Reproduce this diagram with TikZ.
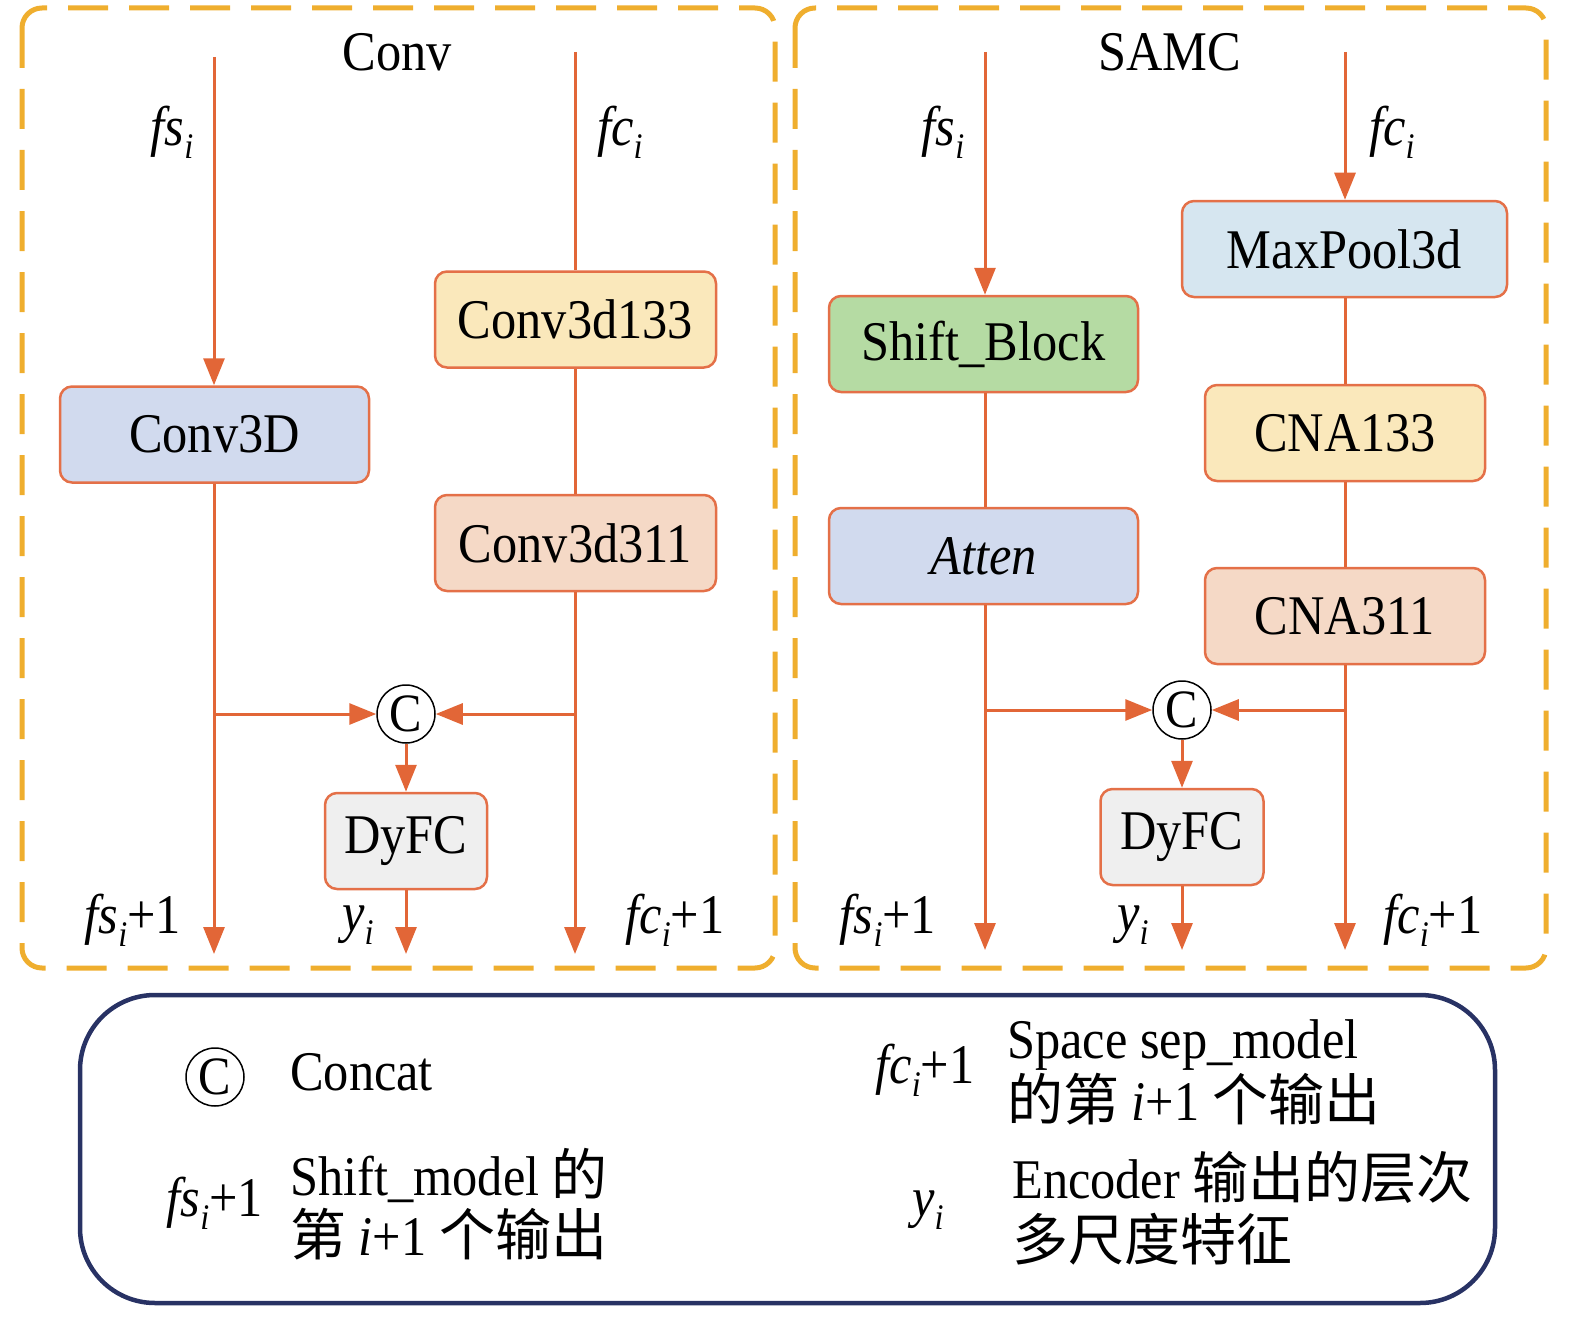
\documentclass[tikz,border=0pt]{standalone}
\usepackage{fontspec}
\setmainfont{Liberation Serif}[FakeStretch=0.9]
\newfontfamily\cjk{Noto Sans CJK SC}
\usetikzlibrary{arrows.meta}
\definecolor{dashorange}{RGB}{239,174,46}
\definecolor{flow}{RGB}{226,102,55}
\definecolor{boxedge}{RGB}{228,112,72}
\definecolor{fillblue}{RGB}{209,218,238}
\definecolor{fillyellow}{RGB}{250,232,187}
\definecolor{fillpeach}{RGB}{245,217,198}
\definecolor{fillsky}{RGB}{214,230,240}
\definecolor{fillgreen}{RGB}{181,219,163}
\definecolor{fillgray}{RGB}{239,239,239}
\definecolor{navy}{RGB}{40,50,100}
\newcommand{\isub}{\raisebox{-0.5ex}{\fontsize{36}{36}\selectfont\itshape i}}
\tikzset{
  x=1pt, y=-1pt,
  every node/.style={font=\fontsize{56}{62}\selectfont, inner sep=0pt},
  panel/.style={draw=dashorange, line width=5pt, dash pattern=on 40pt off 21pt, rounded corners=20pt},
  blk/.style={draw=boxedge, line width=2.5pt, rounded corners=12pt, minimum height=96pt},
  flowline/.style={draw=flow, line width=3pt},
  flowarrow/.style={draw=flow, line width=3pt, -{Triangle[length=27pt,width=21pt]}, color=flow},
  catnode/.style={circle, draw=black, line width=1.5pt, fill=white, minimum size=58pt, font=\fontsize{54}{56}\selectfont},
}
\begin{document}
\begin{tikzpicture}
\useasboundingbox (0,0) rectangle (1575,1319);
% panels
\draw[panel] (22,8) rectangle (775,968);
\draw[panel] (795,8) rectangle (1546,968);
\draw[draw=navy, line width=4.5pt, rounded corners=75pt] (80,995) rectangle (1495,1303);

% ---------- Conv panel ----------
\node (titleL) at (397,52) {Conv};
\node[blk, fill=fillblue, minimum width=309pt] (c3d) at (214.5,434.5) {Conv3D};
\node[blk, fill=fillyellow, minimum width=281pt] (c133) at (575.5,319.5) {Conv3d133};
\node[blk, fill=fillpeach, minimum width=281pt] (c311) at (575.5,543) {Conv3d311};
\node[catnode] (catL) at (406,714) {C};
\node[blk, fill=fillgray, minimum width=162pt] (dyL) at (406,841) {DyFC};

\coordinate (fsInL) at (214,57);
\coordinate (fcInL) at (575,52);
\coordinate (fsOutL) at (214,954);
\coordinate (fcOutL) at (575,954);
\coordinate (yOutL) at (406,954);
\coordinate (brFsL) at (214,714);
\coordinate (brFcL) at (575,714);

\draw[flowarrow] (fsInL) -- (c3d.north -| fsInL);
\draw[flowline] (fcInL) -- (c133.north -| fcInL);
\draw[flowline] (c133.south -| fcInL) -- (c311.north -| fcInL);
\draw[flowarrow] (c3d.south -| fsInL) -- (fsOutL);
\draw[flowarrow] (c311.south -| fcInL) -- (fcOutL);
\draw[flowarrow] (brFsL) -- (catL.west);
\draw[flowarrow] (brFcL) -- (catL.east);
\draw[flowarrow] (catL.south) -- (dyL.north);
\draw[flowarrow] (dyL.south) -- (yOutL);

\node (lfsL) at (172,132) {\textit{fs}\isub};
\node (lfcL) at (620,132) {\textit{fc}\isub};
\node (ofsL) at (133,920) {\textit{fs}\isub+1};
\node (oyL) at (358,925) {\textit{y}\isub};
\node (ofcL) at (675,920) {\textit{fc}\isub+1};

% ---------- SAMC panel ----------
\node (titleR) at (1170,52) {SAMC};
\node[blk, fill=fillsky, minimum width=325pt] (mp) at (1344.5,249) {MaxPool3d};
\node[blk, fill=fillgreen, minimum width=309pt] (sb) at (983.5,344) {Shift\_Block};
\node[blk, fill=fillblue, minimum width=309pt] (at) at (983.5,556) {\textit{Atten}};
\node[blk, fill=fillyellow, minimum width=280pt] (n133) at (1345,433) {CNA133};
\node[blk, fill=fillpeach, minimum width=280pt] (n311) at (1345,616) {CNA311};
\node[catnode] (catR) at (1182,710) {C};
\node[blk, fill=fillgray, minimum width=163pt] (dyR) at (1182,837) {DyFC};

\coordinate (fsInR) at (985,52);
\coordinate (fcInR) at (1345,52);
\coordinate (fsOutR) at (985,950);
\coordinate (fcOutR) at (1345,950);
\coordinate (yOutR) at (1182,950);
\coordinate (brFsR) at (985,710);
\coordinate (brFcR) at (1345,710);

\draw[flowarrow] (fsInR) -- (sb.north -| fsInR);
\draw[flowline] (sb.south -| fsInR) -- (at.north -| fsInR);
\draw[flowarrow] (at.south -| fsInR) -- (fsOutR);
\draw[flowarrow] (fcInR) -- (mp.north -| fcInR);
\draw[flowline] (mp.south -| fcInR) -- (n133.north -| fcInR);
\draw[flowline] (n133.south -| fcInR) -- (n311.north -| fcInR);
\draw[flowarrow] (n311.south -| fcInR) -- (fcOutR);
\draw[flowarrow] (brFsR) -- (catR.west);
\draw[flowarrow] (brFcR) -- (catR.east);
\draw[flowarrow] (catR.south) -- (dyR.north);
\draw[flowarrow] (dyR.south) -- (yOutR);

\node (lfsR) at (943,132) {\textit{fs}\isub};
\node (lfcR) at (1392,132) {\textit{fc}\isub};
\node (ofsR) at (888,920) {\textit{fs}\isub+1};
\node (oyR) at (1133,925) {\textit{y}\isub};
\node (ofcR) at (1433,920) {\textit{fc}\isub+1};

% ---------- Legend ----------
\node[catnode] (lgC) at (215,1077) {C};
\node[anchor=base west] (lgCt) at (290,1090) {Concat};
\node (lgfc) at (925,1070) {\textit{fc}\isub+1};
\node[anchor=base west] (lgfc1) at (1007,1058) {Space sep\_model};
\node[anchor=base west] (lgfc2) at (1007,1120) {{\cjk 的第} \textit{i}+1 {\cjk 个输出}};
\node (lgfs) at (215,1203) {\textit{fs}\isub+1};
\node[anchor=base west] (lgfs1) at (290,1195) {Shift\_model {\cjk 的}};
\node[anchor=base west] (lgfs2) at (290,1255) {{\cjk 第} \textit{i}+1 {\cjk 个输出}};
\node (lgy) at (928,1210) {\textit{y}\isub};
\node[anchor=base west] (lgy1) at (1012,1198) {Encoder {\cjk 输出的层次}};
\node[anchor=base west] (lgy2) at (1012,1260) {{\cjk 多尺度特征}};
\end{tikzpicture}
\end{document}
